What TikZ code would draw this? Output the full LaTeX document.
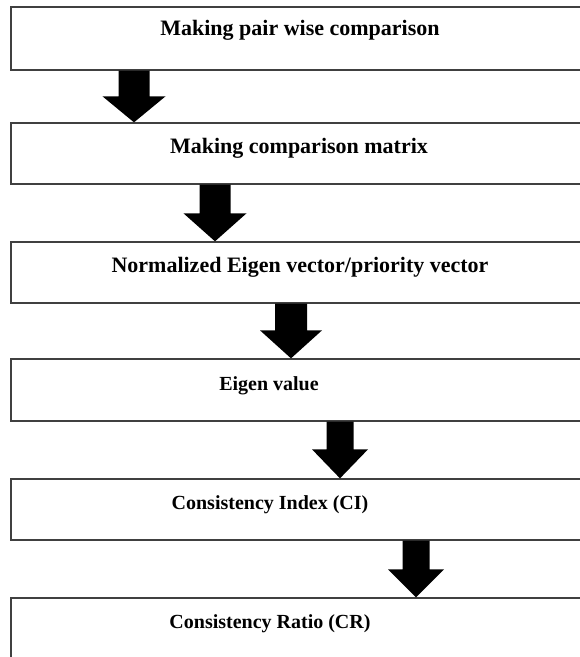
\documentclass[tikz,border=0pt]{standalone}
\usepackage{fontspec}
\setmainfont{Liberation Serif}
\usetikzlibrary{calc}
\definecolor{boxgray}{HTML}{404040}
\newcommand{\blockarr}[6]{%
  \fill let \p1=(#1.south), \p2=(#2.north) in
    ({#3pt-#4pt},\y1) -- ({#3pt+#4pt},\y1) -- ({#3pt+#4pt},{\y2+#6pt}) --
    ({#3pt+#5pt},{\y2+#6pt}) -- ({#3pt},\y2) -- ({#3pt-#5pt},{\y2+#6pt}) --
    ({#3pt-#4pt},{\y2+#6pt}) -- cycle;}
\begin{document}
\begin{tikzpicture}[x=1pt,y=-1pt,
  box/.style={draw=boxgray, line width=1.3pt, rectangle, inner sep=0pt, fill=white},
  bigtxt/.style={font=\bfseries\fontsize{22}{26}\selectfont, anchor=base, inner sep=0pt},
  smalltxt/.style={font=\bfseries\fontsize{20}{24}\selectfont, anchor=base, inner sep=0pt}]
\useasboundingbox (0,0) rectangle (580,657);
\clip (0,0) rectangle (580,657);
\fill[white] (0,0) rectangle (580,657);
\node[box, minimum width=579pt, minimum height=63pt] (b1) at (300.5,38.5) {};
\node[box, minimum width=579pt, minimum height=61pt] (b2) at (300.5,153.5) {};
\node[box, minimum width=579pt, minimum height=61pt] (b3) at (300.5,272.5) {};
\node[box, minimum width=579pt, minimum height=62pt] (b4) at (300.5,390) {};
\node[box, minimum width=579pt, minimum height=61pt] (b5) at (300.5,509.5) {};
\node[box, minimum width=579pt, minimum height=92pt] (b6) at (300.5,644) {};
\node[bigtxt] (t1) at (300,35) {Making pair wise comparison};
\node[bigtxt] (t2) at (299,153) {Making comparison matrix};
\node[bigtxt] (t3) at (300,272) {Normalized Eigen vector/priority vector};
\node[smalltxt] (t4) at (269,390) {Eigen value};
\node[smalltxt] (t5) at (270,509) {Consistency Index (CI)};
\node[smalltxt] (t6) at (270,628) {Consistency Ratio (CR)};
\blockarr{b1}{b2}{134}{15.5}{31.5}{26}
\blockarr{b2}{b3}{215}{15.5}{31.5}{28}
\blockarr{b3}{b4}{291}{16}{31}{28}
\blockarr{b4}{b5}{340}{13.5}{28}{29}
\blockarr{b5}{b6}{416}{13.5}{28}{28}
\end{tikzpicture}
\end{document}
